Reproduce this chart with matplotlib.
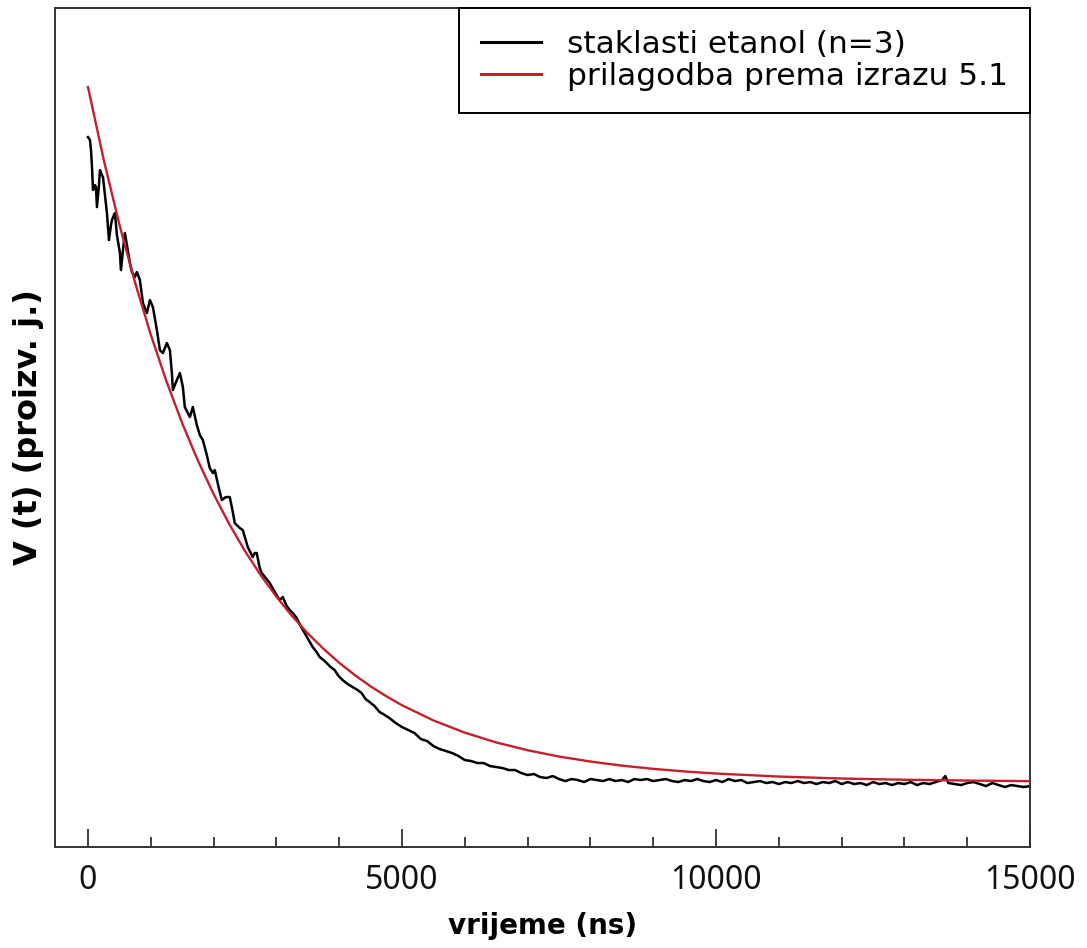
import matplotlib
matplotlib.use("Agg")
import matplotlib.pyplot as plt
from matplotlib.ticker import MultipleLocator, NullLocator

# Measured signal: time (ns) and voltage (arbitrary units)
t_meas = [
    0, 32, 48, 64, 80, 111, 127, 143, 175, 191, 223, 239, 270, 302, 334, 366,
    382, 413, 429, 461, 509, 525, 557, 588, 620, 668, 700, 747, 779, 827, 875,
    938, 986, 1034, 1097, 1145, 1193, 1256, 1304, 1336, 1352, 1415, 1463, 1511,
    1542, 1622, 1670, 1733, 1781, 1829, 1892, 1940, 1988, 2019, 2083, 2131,
    2194, 2258, 2306, 2337, 2417, 2465, 2512, 2544, 2592, 2624, 2655, 2687,
    2735, 2767, 2830, 2894, 2957, 3021, 3053, 3101, 3164, 3212, 3275, 3323,
    3387, 3450, 3514, 3578, 3641, 3689, 3752, 3800, 3864, 3927, 3991, 4054,
    4134, 4214, 4293, 4357, 4420, 4484, 4563, 4643,
    4700, 4800, 4900, 5000, 5100, 5200, 5300, 5400, 5500, 5600, 5700, 5800,
    5900, 6000, 6100, 6200, 6300, 6400, 6500, 6600, 6700, 6800, 6900, 7000,
    7100, 7200, 7300, 7400, 7500, 7600, 7700, 7800, 7900, 8000, 8100, 8200,
    8300, 8400, 8500, 8600, 8700, 8800, 8900, 9000, 9100, 9200, 9300, 9400,
    9500, 9600, 9700, 9800, 9900, 10000, 10100, 10200, 10300, 10400, 10500,
    10600, 10700, 10800, 10900, 11000, 11100, 11200, 11300, 11400, 11500,
    11600, 11700, 11800, 11900, 12000, 12100, 12200, 12300, 12400, 12500,
    12600, 12700, 12800, 12900, 13000, 13100, 13200, 13300, 13400, 13500,
    13600, 13650, 13700, 13800, 13900, 14000, 14100, 14200, 14300, 14400,
    14500, 14600, 14700, 14800, 14900, 15000,
]
v_meas = [
    7.10, 7.07, 6.97, 6.80, 6.57, 6.62, 6.60, 6.40, 6.62, 6.77, 6.72, 6.70,
    6.52, 6.34, 6.07, 6.22, 6.27, 6.32, 6.34, 6.12, 5.94, 5.77, 5.97, 6.14,
    6.02, 5.84, 5.75, 5.70, 5.75, 5.67, 5.44, 5.34, 5.47, 5.40, 5.17, 4.97,
    4.94, 5.04, 4.97, 4.74, 4.57, 4.67, 4.74, 4.60, 4.40, 4.30, 4.40, 4.22,
    4.12, 4.07, 3.92, 3.79, 3.74, 3.77, 3.59, 3.47, 3.50, 3.50, 3.35, 3.24,
    3.19, 3.17, 3.07, 3.00, 2.94, 2.90, 2.94, 2.94, 2.79, 2.74, 2.69, 2.64,
    2.57, 2.50, 2.47, 2.50, 2.41, 2.37, 2.33, 2.29, 2.21, 2.14, 2.07, 2.00,
    1.95, 1.90, 1.87, 1.84, 1.80, 1.77, 1.71, 1.67, 1.63, 1.60, 1.57, 1.54,
    1.48, 1.45, 1.41, 1.35,
    1.33, 1.29, 1.24, 1.20, 1.17, 1.14, 1.08, 1.06, 1.01, 0.98, 0.96, 0.94,
    0.91, 0.87, 0.86, 0.84, 0.84, 0.81, 0.80, 0.79, 0.77, 0.77, 0.74, 0.72,
    0.73, 0.70, 0.69, 0.71, 0.68, 0.66, 0.68, 0.67, 0.65, 0.68, 0.67, 0.66,
    0.68, 0.66, 0.67, 0.65, 0.68, 0.67, 0.68, 0.66, 0.67, 0.68, 0.66, 0.65,
    0.67, 0.66, 0.68, 0.66, 0.65, 0.67, 0.65, 0.68, 0.66, 0.67, 0.64, 0.65,
    0.66, 0.64, 0.65, 0.63, 0.65, 0.64, 0.66, 0.64, 0.65, 0.63, 0.65, 0.64,
    0.66, 0.63, 0.65, 0.63, 0.64, 0.62, 0.65, 0.63, 0.64, 0.62, 0.64, 0.63,
    0.65, 0.62, 0.64, 0.63, 0.65, 0.67, 0.71, 0.64, 0.63, 0.62, 0.64, 0.65,
    0.63, 0.61, 0.64, 0.62, 0.60, 0.62, 0.61, 0.60, 0.61,
]

# Fitted curve (expression 5.1)
t_fit = [
    0, 250, 500, 750, 1000, 1250, 1500, 1750, 2000, 2250, 2500, 2750, 3000,
    3250, 3500, 3750, 4000, 4250, 4500, 4750, 5000, 5500, 6000, 6500, 7000,
    7500, 8000, 8500, 9000, 9500, 10000, 11000, 12000, 13000, 14000, 15000,
]
v_fit = [
    7.600, 6.875, 6.226, 5.644, 5.124, 4.657, 4.239, 3.865, 3.530, 3.229,
    2.960, 2.719, 2.504, 2.310, 2.137, 1.982, 1.843, 1.719, 1.607, 1.508,
    1.418, 1.266, 1.144, 1.046, 0.968, 0.905, 0.855, 0.814, 0.782, 0.756,
    0.735, 0.705, 0.685, 0.673, 0.665, 0.659,
]

x_ticks = [0, 5000, 10000, 15000]
label_meas = "staklasti etanol (n=3)"
label_fit = "prilagodba prema izrazu 5.1"

plt.rcParams["font.family"] = ["Noto Sans", "DejaVu Sans"]

fig = plt.figure(figsize=(10.87, 9.48), dpi=100)
ax = fig.add_axes([0.0506, 0.1065, 0.897, 0.885])

ax.plot(t_meas, v_meas, color="black", lw=1.8, label=label_meas, zorder=2)
ax.plot(t_fit, v_fit, color="#c41f2c", lw=1.7, label=label_fit, zorder=3)

ax.set_xlim(-525, 15000)
ax.set_ylim(0, 8.39)

ax.set_xticks(x_ticks)
ax.set_xticklabels([str(v) for v in x_ticks])
ax.xaxis.set_minor_locator(MultipleLocator(1000))
ax.yaxis.set_major_locator(NullLocator())
ax.tick_params(axis="x", which="major", direction="in", length=13, width=1.2,
               labelsize=23, pad=12, colors="#222222", labelcolor="#111111")
ax.tick_params(axis="x", which="minor", direction="in", length=7, width=1.2,
               colors="#222222")
ax.tick_params(axis="x", top=False, which="both")

for s in ax.spines.values():
    s.set_linewidth(1.4)
    s.set_color("#333333")

ax.set_xlabel("vrijeme (ns)", fontsize=20, fontweight="bold",
              family="DejaVu Sans", labelpad=11)
ax.set_ylabel("V (t) (proizv. j.)", fontsize=23, fontweight="bold",
              family="DejaVu Sans", labelpad=8)

leg = ax.legend(loc="upper right", bbox_to_anchor=(1.0, 1.0), borderaxespad=0,
                prop={"family": "DejaVu Sans", "size": 22.5},
                frameon=True, fancybox=False, handlelength=1.9,
                handletextpad=0.85, borderpad=0.7, labelspacing=0.1)
leg.get_frame().set_edgecolor("black")
leg.get_frame().set_linewidth(1.4)
leg.get_frame().set_alpha(1.0)
for line in leg.get_lines():
    line.set_linewidth(2.2)

fig.savefig("out.png", dpi=100, facecolor="white")
